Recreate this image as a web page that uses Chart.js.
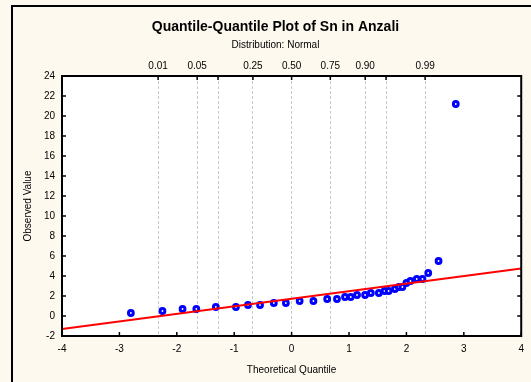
<!DOCTYPE html>
<html>
<head>
<meta charset="utf-8">
<script src="https://cdn.jsdelivr.net/npm/chart.js@4"></script>
<style>
  html, body { margin: 0; padding: 0; background: #fdf9ee; }
  #wrap { width: 531px; height: 382px; }
</style>
</head>
<body>
<div id="wrap"><canvas id="chart" width="531" height="382"></canvas></div>
<script>
// observed values vs theoretical normal quantiles
const theoQuantile = [-2.80, -2.25, -1.90, -1.66, -1.32, -0.97, -0.76, -0.55, -0.31, -0.10,
  0.14, 0.38, 0.62, 0.79, 0.93, 1.03, 1.14, 1.28, 1.38, 1.52, 1.62, 1.69, 1.80, 1.87,
  1.93, 2.00, 2.07, 2.18, 2.28, 2.38, 2.56, 2.86];
const observed = [0.3, 0.5, 0.7, 0.7, 0.9, 0.9, 1.1, 1.1, 1.3, 1.3,
  1.5, 1.5, 1.7, 1.7, 1.9, 1.9, 2.1, 2.1, 2.3, 2.3, 2.5, 2.5, 2.7, 2.9,
  2.9, 3.3, 3.5, 3.7, 3.7, 4.3, 5.5, 21.2];

// fitted reference line
const fitX = [-4, 4];
const fitY = [-1.3, 4.75];

// probability scale on top
const probZ = [-2.326, -1.645, -1.282, -0.674, 0, 0.674, 1.282, 1.645, 2.326];
const probLabels = ['0.01', '0.05', '', '0.25', '0.50', '0.75', '0.90', '', '0.99'];

const FONT = 'Liberation Sans, Arial, sans-serif';
Chart.defaults.font.family = FONT;
Chart.defaults.color = '#000';

const frame = {
  id: 'frame',
  beforeDraw(chart) {
    const {ctx, chartArea: a} = chart;
    ctx.save();
    ctx.fillStyle = '#fdf9ee';
    ctx.fillRect(0, 0, chart.width, chart.height);
    ctx.strokeStyle = '#000';
    ctx.lineWidth = 2;
    ctx.strokeRect(12, 6, chart.width + 10, chart.height + 10);
    ctx.fillStyle = '#fff';
    ctx.fillRect(a.left, a.top, a.right - a.left, a.bottom - a.top);
    ctx.restore();
  },
  afterDraw(chart) {
    const {ctx, chartArea: a, scales} = chart;
    ctx.save();
    ctx.strokeStyle = '#000';
    ctx.lineWidth = 2;
    ctx.strokeRect(a.left, a.top, a.right - a.left, a.bottom - a.top);
    ctx.lineWidth = 1.5;
    ctx.beginPath();
    scales.x.ticks.forEach(t => {
      const p = scales.x.getPixelForValue(t.value);
      ctx.moveTo(p, a.bottom); ctx.lineTo(p, a.bottom - 4);
    });
    scales.x2.ticks.forEach(t => {
      const p = scales.x2.getPixelForValue(t.value);
      ctx.moveTo(p, a.top); ctx.lineTo(p, a.top + 4);
    });
    scales.y.ticks.forEach(t => {
      const p = scales.y.getPixelForValue(t.value);
      ctx.moveTo(a.left, p); ctx.lineTo(a.left + 4, p);
      ctx.moveTo(a.right, p); ctx.lineTo(a.right - 4, p);
    });
    ctx.stroke();
    ctx.restore();
  }
};

new Chart(document.getElementById('chart'), {
  type: 'scatter',
  data: {
    datasets: [{
      label: 'Observed',
      data: theoQuantile.map((q, i) => ({x: q, y: observed[i]})),
      pointRadius: 2.4,
      pointBorderWidth: 3,
      pointBorderColor: '#0000ff',
      pointBackgroundColor: '#ffffff',
      order: 2
    }, {
      type: 'line',
      label: 'Fit',
      data: fitX.map((q, i) => ({x: q, y: fitY[i]})),
      borderColor: '#ff0000',
      borderWidth: 2,
      pointRadius: 0,
      order: 1
    }]
  },
  options: {
    responsive: false,
    animation: false,
    layout: { padding: { left: 26, right: 6, top: 0, bottom: 0 } },
    plugins: {
      legend: { display: false },
      tooltip: { enabled: false },
      title: {
        display: true,
        text: 'Quantile-Quantile Plot of Sn in Anzali',
        font: { size: 14, weight: 'bold' },
        padding: { top: 18.6, bottom: 2 }
      },
      subtitle: {
        display: true,
        text: 'Distribution: Normal',
        font: { size: 10 },
        padding: { top: 2, bottom: 0 }
      }
    },
    scales: {
      x: {
        type: 'linear',
        position: 'bottom',
        min: -4, max: 4,
        afterFit: s => { s.height = 46; },
        ticks: { stepSize: 1, autoSkip: false, maxRotation: 0, padding: 7, font: { size: 10 } },
        grid: { drawOnChartArea: false, drawTicks: false },
        border: { display: false },
        title: { display: true, text: 'Theoretical Quantile', font: { size: 10 }, padding: { top: 0, bottom: 6 } }
      },
      x2: {
        type: 'linear',
        position: 'top',
        min: -4, max: 4,
        afterFit: s => { s.height = 24.6; },
        afterBuildTicks: s => { s.ticks = probZ.map(v => ({value: v})); },
        ticks: { autoSkip: false, maxRotation: 0, padding: 4, font: { size: 10 },
          callback: (v, i) => probLabels[i] },
        grid: { drawOnChartArea: true, drawTicks: false, color: '#c8c8c8', lineWidth: 1 },
        border: { display: false, dash: [3, 2] }
      },
      y: {
        type: 'linear',
        min: -2, max: 24,
        afterFit: s => { s.width = 36; },
        ticks: { stepSize: 2, autoSkip: false, padding: 7, font: { size: 10 } },
        grid: { drawOnChartArea: false, drawTicks: false },
        border: { display: false },
        title: { display: true, text: 'Observed Value', font: { size: 10 }, padding: { top: -3.5, bottom: 0 } }
      }
    }
  },
  plugins: [frame]
});
</script>
</body>
</html>
